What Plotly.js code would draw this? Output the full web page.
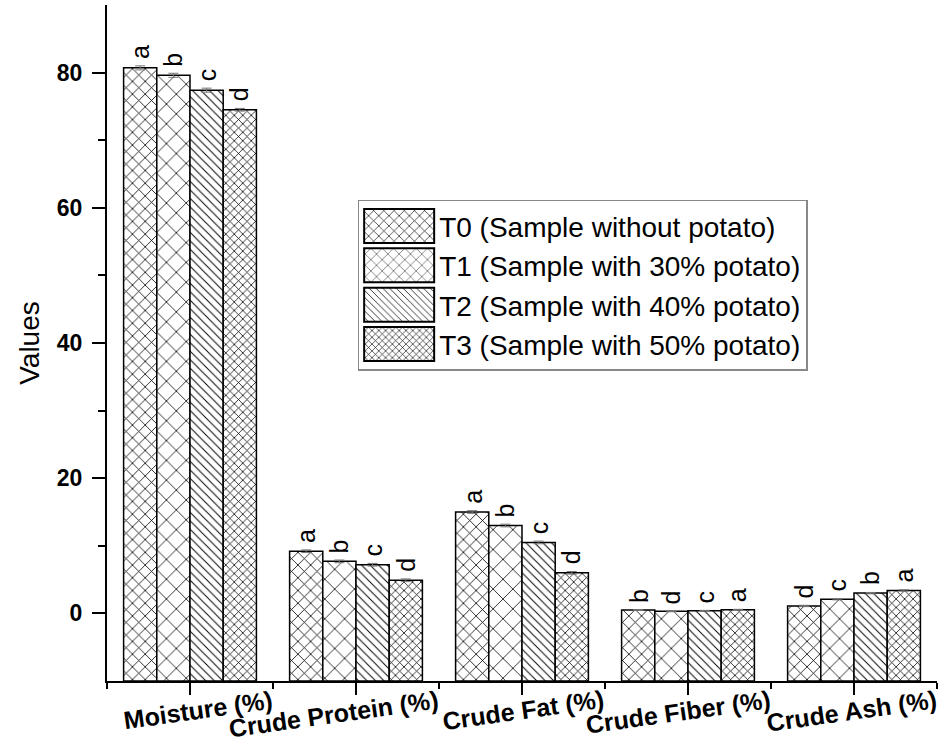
<!DOCTYPE html>
<html>
<head>
<meta charset="utf-8">
<script src="https://cdn.plot.ly/plotly-3.0.1.min.js"></script>
<style>html,body{margin:0;padding:0;background:#fff;}#chart{width:943px;height:746px;}</style>
</head>
<body>
<div id="chart"></div>
<script>
// ---- data ----
const categories = ["Moisture (%)", "Crude Protein (%)", "Crude Fat (%)", "Crude Fiber (%)", "Crude Ash (%)"];
const seriesNames = ["T0 (Sample without potato)", "T1 (Sample with 30% potato)", "T2 (Sample with 40% potato)", "T3 (Sample with 50% potato)"];
const T0 = [80.7, 9.2, 15.0, 0.5, 1.1];
const T1 = [79.6, 7.7, 13.0, 0.3, 2.1];
const T2 = [77.4, 7.2, 10.5, 0.4, 3.0];
const T3 = [74.5, 4.9, 6.0, 0.55, 3.4];
const T0_err = [0.3, 0.2, 0.2, 0.05, 0.1];
const T1_err = [0.3, 0.2, 0.2, 0.05, 0.1];
const T2_err = [0.3, 0.2, 0.2, 0.05, 0.1];
const T3_err = [0.2, 0.2, 0.2, 0.05, 0.1];
const T0_letters = ["a", "a", "a", "b", "d"];
const T1_letters = ["b", "b", "b", "d", "c"];
const T2_letters = ["c", "c", "c", "c", "b"];
const T3_letters = ["d", "d", "d", "a", "a"];
const yTickVals = [0, 20, 40, 60, 80];

// ---- styling ----
const FONT = "Liberation Sans, Arial, sans-serif";
const AXIS_MIN = -10, AXIS_MAX = 90;
const BARGAP = 0.2;
const patterns = [
  {shape: "x", size: 9, solidity: 0.17},
  {shape: "x", size: 14, solidity: 0.11},
  {shape: "\\", size: 6, solidity: 0.16},
  {shape: "x", size: 6, solidity: 0.24}
];
const xIdx = categories.map((_, i) => i);
const allVals = [T0, T1, T2, T3];
const allErr = [T0_err, T1_err, T2_err, T3_err];
const allLetters = [T0_letters, T1_letters, T2_letters, T3_letters];
const nSeries = allVals.length;
const barW = (1 - BARGAP) / nSeries;

const traces = allVals.map((vals, k) => ({
  type: "bar",
  name: seriesNames[k],
  x: xIdx,
  base: AXIS_MIN,
  y: vals.map(v => v - AXIS_MIN),
  customdata: vals,
  hovertemplate: "%{customdata}<extra>" + seriesNames[k] + "</extra>",
  marker: {
    color: "#fff",
    line: {color: "#000", width: 1.5},
    pattern: {shape: patterns[k].shape, size: patterns[k].size, solidity: patterns[k].solidity, fgcolor: "#000", bgcolor: "#fff", fillmode: "replace"}
  },
  error_y: {type: "data", array: allErr[k], visible: true, color: "#777", thickness: 1, width: 5}
}));

const annotations = [];
// category labels: tilted, right end aligned with the group boundary
categories.forEach((c, i) => {
  annotations.push({
    x: i + 0.5, xref: "x", xshift: 3, y: 0, yref: "paper", yshift: -2,
    text: "<b>" + c + "</b>", showarrow: false, textangle: -8,
    xanchor: "right", yanchor: "top",
    font: {family: FONT, size: 25, color: "#000"}
  });
});
// significance letters above each bar
allVals.forEach((vals, k) => {
  vals.forEach((v, i) => {
    annotations.push({
      x: i + (k - (nSeries - 1) / 2) * barW, xref: "x",
      y: v + allErr[k][i], yref: "y", yshift: 5,
      text: allLetters[k][i], showarrow: false, textangle: -90,
      xanchor: "center", yanchor: "bottom",
      font: {family: FONT, size: 25, color: "#000"}
    });
  });
});

const layout = {
  width: 943, height: 746,
  margin: {l: 107, r: 6, t: 5, b: 65},
  paper_bgcolor: "#fff", plot_bgcolor: "#fff",
  barmode: "group", bargap: BARGAP, bargroupgap: 0,
  showlegend: true,
  legend: {
    x: 0.302, y: 0.712, xanchor: "left", yanchor: "top",
    bordercolor: "#888", borderwidth: 1.5, bgcolor: "#fff",
    font: {family: FONT, size: 28, color: "#000"},
    itemwidth: 70,
    tracegroupgap: 0
  },
  xaxis: {
    type: "linear", range: [-0.5, 4.5],
    tickvals: xIdx, ticktext: categories.map(() => ""),
    showline: true, linecolor: "#000", linewidth: 2,
    ticks: "outside", ticklen: 12, tickwidth: 2, tickcolor: "#000",
    showgrid: false, zeroline: false, fixedrange: true,
    minor: {tickvals: [-0.5, 0.5, 1.5, 2.5, 3.5, 4.5], ticks: "outside", ticklen: 6, tickwidth: 2, tickcolor: "#000", showgrid: false}
  },
  yaxis: {
    range: [AXIS_MIN, AXIS_MAX],
    tickvals: yTickVals,
    showline: true, linecolor: "#000", linewidth: 2,
    ticks: "outside", ticklen: 13, tickwidth: 2, tickcolor: "#000",
    ticklabelstandoff: 5,
    tickfont: {family: FONT, size: 23, color: "#000", weight: "bold"},
    showgrid: false, zeroline: false, fixedrange: true,
    title: {text: "Values", font: {family: FONT, size: 28, color: "#000"}, standoff: 9},
    minor: {tickvals: [10, 30, 50, 70], ticks: "outside", ticklen: 7, tickwidth: 2, tickcolor: "#000", showgrid: false}
  },
  annotations: annotations
};

Plotly.newPlot("chart", traces, layout, {displayModeBar: false, staticPlot: true}).then(gd => {
  // enlarge the legend swatches to the wide rectangles used in the original figure
  gd.querySelectorAll(".legend .legendpoints path").forEach(p => {
    p.setAttribute("d", "M35,17H-35V-17H35Z");
    p.style.strokeWidth = "2px";
  });
});
</script>
</body>
</html>
